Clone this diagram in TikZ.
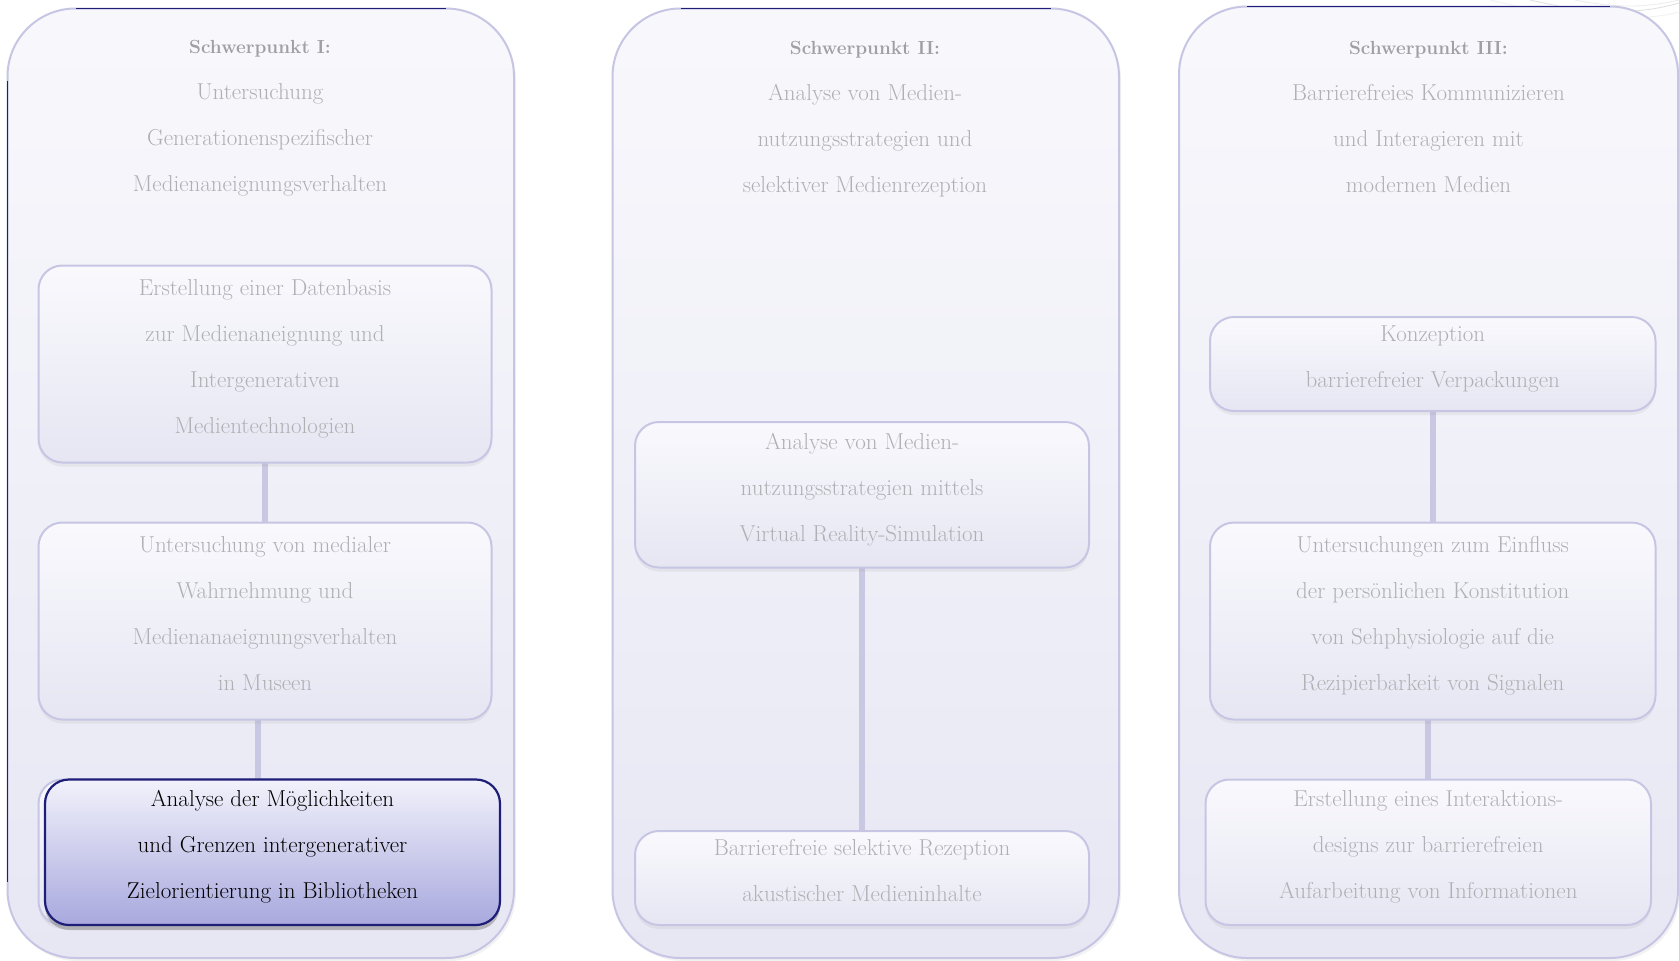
\documentclass[tikz,border=0pt]{standalone}
\usetikzlibrary{shadows}
\definecolor{lav}{RGB}{198,198,228}
\definecolor{navy}{RGB}{30,30,120}
\definecolor{txtg}{RGB}{176,176,180}
\definecolor{headg}{RGB}{160,160,164}
\definecolor{topc}{RGB}{248,248,252}
\definecolor{botc}{RGB}{231,231,244}
\definecolor{itop}{RGB}{249,249,253}
\definecolor{ibot}{RGB}{230,230,243}
\definecolor{hitop}{RGB}{242,242,251}
\definecolor{hibot}{RGB}{168,168,222}
\definecolor{connc}{RGB}{200,200,226}
\pgfdeclarelayer{bg}
\pgfdeclarelayer{links}
\pgfsetlayers{bg,links,main}
\tikzset{
  colbox/.style={draw=lav, line width=2pt, rounded corners=68pt, outer sep=0pt,
    top color=topc, bottom color=botc, inner sep=0pt,
    drop shadow={opacity=0.10, shadow xshift=2pt, shadow yshift=-3pt}},
  ibox/.style={draw=lav, line width=2pt, rounded corners=24pt, outer sep=0pt,
    top color=itop, bottom color=ibot, inner sep=0pt, align=center,
    text=txtg, font=\fontsize{23}{46}\selectfont, text depth=15pt,
    drop shadow={opacity=0.10, shadow xshift=0pt, shadow yshift=-4pt}},
  hibox/.style={draw=navy, line width=2.2pt, rounded corners=24pt, outer sep=0pt,
    top color=hitop, bottom color=hibot, inner sep=0pt, align=center,
    text=black, font=\fontsize{23}{46}\selectfont, text depth=15pt,
    drop shadow={opacity=0.5, shadow xshift=0pt, shadow yshift=-5pt}},
  headtxt/.style={align=center, text=txtg, font=\fontsize{23}{46}\selectfont, inner sep=0pt},
  conn/.style={draw=connc, line width=6pt},
  topline/.style={draw=navy, line width=1.2pt},
  swirl/.style={draw=gray!25, line width=0.8pt}
}
\newcommand{\hd}[1]{{\fontsize{19}{46}\selectfont\bfseries\color{headg}#1}}
\begin{document}
\begin{tikzpicture}[x=1pt,y=-1pt]
\useasboundingbox (0,0) rectangle (1679,961);

\begin{pgfonlayer}{bg}
  \fill[white] (0,0) rectangle (1679,961);
  \draw[swirl] (1530,0) .. controls (1600,16) and (1640,14) .. (1679,3);
  \draw[swirl, draw=gray!15] (1575,0) .. controls (1620,9) and (1650,7) .. (1679,0);
  \draw[swirl, draw=gray!12] (1490,0) .. controls (1580,22) and (1640,22) .. (1679,12);
  \node[colbox, minimum width=506.5pt, minimum height=949.5pt] (S1) at (260.75,483.25) {};
  \node[colbox, minimum width=506.5pt, minimum height=949.5pt] (S2) at (865.75,483.25) {};
  \node[colbox, minimum width=499pt, minimum height=951.5pt] (S3) at (1428.5,482.25) {};
  \draw[topline] ([xshift=68pt]S1.north west) -- ([xshift=-68pt]S1.north east);
  \draw[topline] ([xshift=68pt]S2.north west) -- ([xshift=-68pt]S2.north east);
  \draw[topline] ([xshift=68pt]S3.north west) -- ([xshift=-68pt]S3.north east);
  \draw[topline, line width=1pt] ([yshift=-72pt]S1.north west) -- ([yshift=76pt]S1.south west);
\end{pgfonlayer}

% headers
\node[headtxt] (H1) at (260,118) {\hd{Schwerpunkt I:}\\Untersuchung\\Generationenspezifischer\\Medienaneignungsverhalten};
\node[headtxt] (H2) at (865,119) {\hd{Schwerpunkt II:}\\Analyse von Medien-\\nutzungsstrategien und\\selektiver Medienrezeption};
\node[headtxt] (H3) at (1428.5,117) {\hd{Schwerpunkt III:}\\Barrierefreies Kommunizieren\\und Interagieren mit\\modernen Medien};

% column 1
\node[ibox, minimum width=453pt, minimum height=197pt] (A) at (265,364)
  {Erstellung einer Datenbasis\\zur Medienaneignung und\\Intergenerativen\\Medientechnologien};
\node[ibox, minimum width=453pt, minimum height=197pt] (B) at (265,621)
  {Untersuchung von medialer\\Wahrnehmung und\\Medienanaeignungsverhalten\\in Museen};
\node[ibox, minimum width=453pt, minimum height=145.5pt] (Cg) at (265,852.25) {};
\node[hibox, minimum width=455pt, minimum height=145.5pt] (C) at (272.5,852.25)
  {Analyse der M\"oglichkeiten\\und Grenzen intergenerativer\\Zielorientierung in Bibliotheken};

% column 2
\node[ibox, minimum width=454pt, minimum height=145.5pt] (D) at (862,494.75)
  {Analyse von Medien-\\nutzungsstrategien mittels\\Virtual Reality-Simulation};
\node[ibox, minimum width=454pt, minimum height=94pt] (E) at (862,878)
  {Barrierefreie selektive Rezeption\\akustischer Medieninhalte};

% column 3
\node[ibox, minimum width=445.5pt, minimum height=94pt] (F) at (1432.75,364)
  {Konzeption\\barrierefreier Verpackungen};
\node[ibox, minimum width=445.5pt, minimum height=197pt] (G) at (1432.75,621)
  {Untersuchungen zum Einfluss\\der pers\"onlichen Konstitution\\von Sehphysiologie auf die\\Rezipierbarkeit von Signalen};
\node[ibox, minimum width=445.5pt, minimum height=145.5pt] (Hb) at (1428.25,852.25)
  {Erstellung eines Interaktions-\\designs zur barrierefreien\\Aufarbeitung von Informationen};

\begin{pgfonlayer}{links}
  \draw[conn] (A.south) -- (B.north);
  \draw[conn] ([xshift=-7pt]B.south) -- ([xshift=-14.5pt]C.north);
  \draw[conn] (D.south) -- (E.north);
  \draw[conn] (F.south) -- (G.north);
  \draw[conn] ([xshift=-4.5pt]G.south) -- (Hb.north);
\end{pgfonlayer}
\end{tikzpicture}
\end{document}
